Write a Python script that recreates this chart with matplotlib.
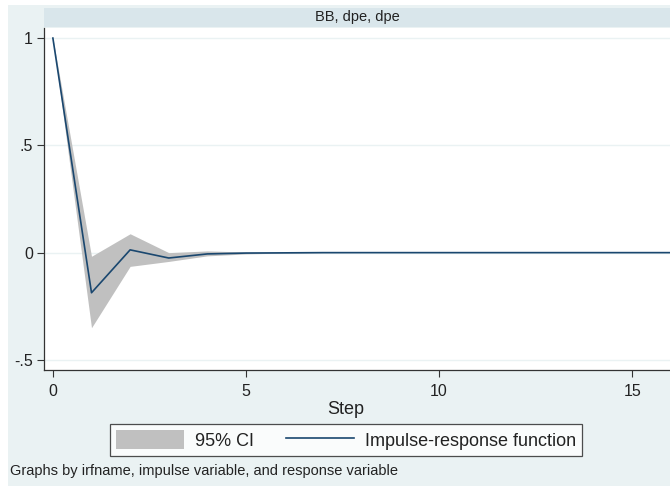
import matplotlib.pyplot as plt
import numpy as np
from matplotlib.patches import Patch, Rectangle
from matplotlib.lines import Line2D

plt.rcParams["font.family"] = ["Liberation Sans", "DejaVu Sans"]

# impulse-response of dpe to dpe (irfname BB)
steps = np.arange(0, 17)
irf = [1.0, -0.187, 0.013, -0.025, -0.006, -0.002, -0.001, 0.0, 0.0, 0.0,
       0.0, 0.0, 0.0, 0.0, 0.0, 0.0, 0.0]
ci_lower = [1.0, -0.35, -0.064, -0.041, -0.015, -0.006, -0.002, -0.001, 0.0, 0.0,
            0.0, 0.0, 0.0, 0.0, 0.0, 0.0, 0.0]
ci_upper = [1.0, -0.017, 0.088, 0.0, 0.008, 0.003, 0.001, 0.0, 0.0, 0.0,
            0.0, 0.0, 0.0, 0.0, 0.0, 0.0, 0.0]

panel_title = "BB, dpe, dpe"
y_ticks = [-0.5, 0, 0.5, 1]
y_labels = ["-.5", "0", ".5", "1"]
x_ticks = [0, 5, 10, 15]

W, H = 670, 486
BG = "#eaf2f3"
STRIP = "#d9e6eb"
NAVY = "#1a476f"
BAND = "#c0c0c0"

fig = plt.figure(figsize=(W / 100, H / 100), dpi=100)
fig.patch.set_facecolor("white")
fig.patches.append(Rectangle((8 / W, 0), 1, 1 - 5 / H, transform=fig.transFigure,
                             facecolor=BG, edgecolor="none", zorder=-10))

# plot region: x 44..670 px, y 28..370 px
ax = fig.add_axes([44 / W, 1 - 370 / H, (W - 44) / W, (370 - 28) / H])
strip = fig.add_axes([44 / W, 1 - 27 / H, (W - 44) / W, (27 - 8) / H])
strip.set_facecolor(STRIP)
strip.set_xticks([])
strip.set_yticks([])
for s in strip.spines.values():
    s.set_visible(False)
strip.text(0.5, 0.5, panel_title, ha="center", va="center", fontsize=10.5,
           color="#222222", transform=strip.transAxes)

ax.set_facecolor("white")
ax.fill_between(steps, ci_lower, ci_upper, color=BAND, linewidth=0, zorder=2)
ax.plot(steps, irf, color=NAVY, linewidth=1.2, zorder=3)

ax.set_xlim(-0.23, 15.98)
ax.set_ylim(-0.547, 1.047)
ax.set_yticks(y_ticks)
ax.set_yticklabels(y_labels)
ax.set_xticks(x_ticks)
ax.set_xticklabels([str(t) for t in x_ticks])
ax.tick_params(axis="both", direction="out", length=5, width=0.8, color="#333333",
               labelsize=11.5, labelcolor="#222222")
ax.tick_params(axis="y", pad=3)
ax.tick_params(axis="x", pad=5)
ax.grid(axis="y", color=BG, linewidth=1.0, zorder=1)
ax.set_axisbelow(True)
for side in ["top", "right"]:
    ax.spines[side].set_visible(False)
for side in ["left", "bottom"]:
    ax.spines[side].set_color("#333333")
    ax.spines[side].set_linewidth(0.9)

fig.text(346 / W, 1 - 409 / H, "Step", ha="center", va="center",
         fontsize=13, color="#222222")

handles = [Patch(facecolor=BAND, edgecolor="none"),
           Line2D([0], [0], color=NAVY, linewidth=1.2)]
leg = fig.legend(handles, ["95% CI", "Impulse-response function"], ncol=2,
                 loc="center", bbox_to_anchor=(346 / W, 1 - 440 / H), fontsize=13,
                 frameon=True, fancybox=False, handlelength=3.75, handleheight=1.2,
                 columnspacing=1.8, handletextpad=0.6, borderpad=0.35,
                 borderaxespad=0)
leg.get_frame().set_edgecolor("#222222")
leg.get_frame().set_linewidth(0.9)
leg.get_frame().set_facecolor("white")
for t in leg.get_texts():
    t.set_color("#222222")

fig.text(10 / W, 1 - 471 / H, "Graphs by irfname, impulse variable, and response variable",
         ha="left", va="center", fontsize=10.5, color="#222222")

fig.savefig("out.png", dpi=100)
